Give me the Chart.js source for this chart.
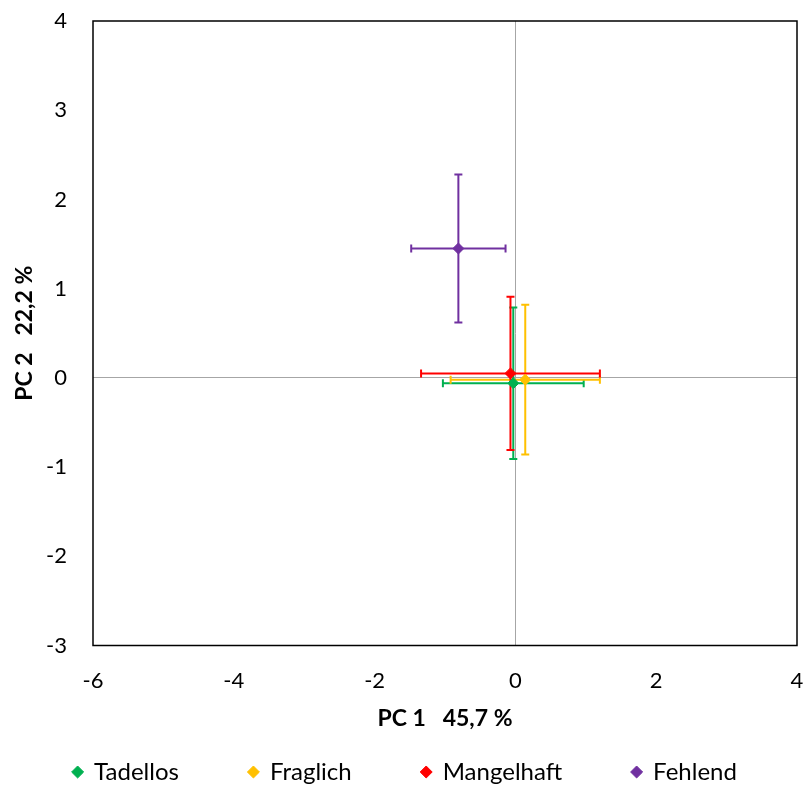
<!DOCTYPE html>
<html>
<head>
<meta charset="utf-8">
<script src="https://cdn.jsdelivr.net/npm/chart.js@4.4.1/dist/chart.umd.min.js"></script>
<style>
  html, body { margin: 0; padding: 0; background: #fff; }
  #wrap { width: 810px; height: 790px; }
</style>
</head>
<body>
<div id="wrap"><canvas id="pca"></canvas></div>
<script>
// ---------------- Data ----------------
const groups = ["Tadellos", "Fraglich", "Mangelhaft", "Fehlend"];
const colors = ["#00B050", "#FFC000", "#FF0000", "#7030A0"];
const pc1Mean = [-0.03, 0.14, -0.07, -0.81];
const pc2Mean = [-0.06, -0.02, 0.05, 1.45];
const pc1Err = [1.0, 1.06, 1.27, 0.67];
const pc2Err = [0.85, 0.84, 0.86, 0.83];
const xTicks = [-6, -4, -2, 0, 2, 4];
const yTicks = [-3, -2, -1, 0, 1, 2, 3, 4];

const FONT = "Lato, 'Liberation Sans', sans-serif";

// ---------------- Plugins ----------------
const errorBars = {
  id: "errorBars",
  beforeDatasetsDraw(chart) {
    const { ctx, scales: { x, y } } = chart;
    const cap = 4;
    ctx.save();
    ctx.lineWidth = 2;
    groups.forEach((g, i) => {
      const cx = x.getPixelForValue(pc1Mean[i]);
      const cy = y.getPixelForValue(pc2Mean[i]);
      const x0 = x.getPixelForValue(pc1Mean[i] - pc1Err[i]);
      const x1 = x.getPixelForValue(pc1Mean[i] + pc1Err[i]);
      const y0 = y.getPixelForValue(pc2Mean[i] - pc2Err[i]);
      const y1 = y.getPixelForValue(pc2Mean[i] + pc2Err[i]);
      ctx.strokeStyle = colors[i];
      ctx.beginPath();
      ctx.moveTo(x0, cy); ctx.lineTo(x1, cy);
      ctx.moveTo(x0, cy - cap); ctx.lineTo(x0, cy + cap);
      ctx.moveTo(x1, cy - cap); ctx.lineTo(x1, cy + cap);
      ctx.moveTo(cx, y0); ctx.lineTo(cx, y1);
      ctx.moveTo(cx - cap, y0); ctx.lineTo(cx + cap, y0);
      ctx.moveTo(cx - cap, y1); ctx.lineTo(cx + cap, y1);
      ctx.stroke();
    });
    ctx.restore();
  }
};

const frame = {
  id: "frame",
  afterDraw(chart) {
    const { ctx, chartArea: a } = chart;
    ctx.save();
    ctx.strokeStyle = "#000";
    ctx.lineWidth = 1.5;
    ctx.strokeRect(a.left, a.top, a.right - a.left, a.bottom - a.top);
    ctx.restore();
  }
};

// ---------------- Chart ----------------
new Chart(document.getElementById("pca"), {
  type: "scatter",
  data: {
    datasets: groups.map((g, i) => ({
      label: g,
      data: [{ x: pc1Mean[i], y: pc2Mean[i] }],
      backgroundColor: colors[i],
      borderColor: colors[i],
      pointStyle: "rectRot",
      pointRadius: 5.5,
      pointHoverRadius: 5.5
    }))
  },
  options: {
    responsive: true,
    maintainAspectRatio: false,
    animation: false,
    layout: { padding: { top: 0, right: 0, left: 0, bottom: -4 } },
    plugins: {
      tooltip: { enabled: false },
      legend: {
        position: "bottom",
        labels: {
          usePointStyle: true,
          pointStyle: "rectRot",
          boxWidth: 9,
          boxHeight: 8.5,
          padding: 70,
          color: "#000",
          font: { family: FONT, size: 24 }
        }
      }
    },
    scales: {
      x: {
        type: "linear",
        min: -6, max: 4,
        afterBuildTicks: s => { s.ticks = xTicks.map(v => ({ value: v })); },
        afterFit: s => { s.height = 44.5; s.paddingRight = 13; s.paddingLeft = 0; },
        grid: {
          drawTicks: false,
          color: c => c.tick && c.tick.value === 0 ? "#A6A6A6" : "transparent",
          lineWidth: 1
        },
        border: { display: false },
        ticks: { padding: 22, color: "#000", font: { family: FONT, size: 22 } },
        title: {
          display: true,
          text: "PC 1   45,7 %",
          color: "#000",
          padding: { top: 0, bottom: -42 },
          font: { family: FONT, size: 23, weight: "bold" }
        }
      },
      y: {
        type: "linear",
        min: -3, max: 4,
        afterBuildTicks: s => { s.ticks = yTicks.map(v => ({ value: v })); },
        afterFit: s => { s.width = 93; s.paddingTop = 21; s.paddingBottom = 0; },
        grid: {
          drawTicks: false,
          color: c => c.tick && c.tick.value === 0 ? "#A6A6A6" : "transparent",
          lineWidth: 1
        },
        border: { display: false },
        ticks: { padding: 26, color: "#000", font: { family: FONT, size: 22 } },
        title: {
          display: true,
          text: "PC 2   22,2 %",
          color: "#000",
          padding: { top: 11, bottom: 0 },
          font: { family: FONT, size: 23, weight: "bold" }
        }
      }
    }
  },
  plugins: [errorBars, frame]
});
</script>
</body>
</html>
